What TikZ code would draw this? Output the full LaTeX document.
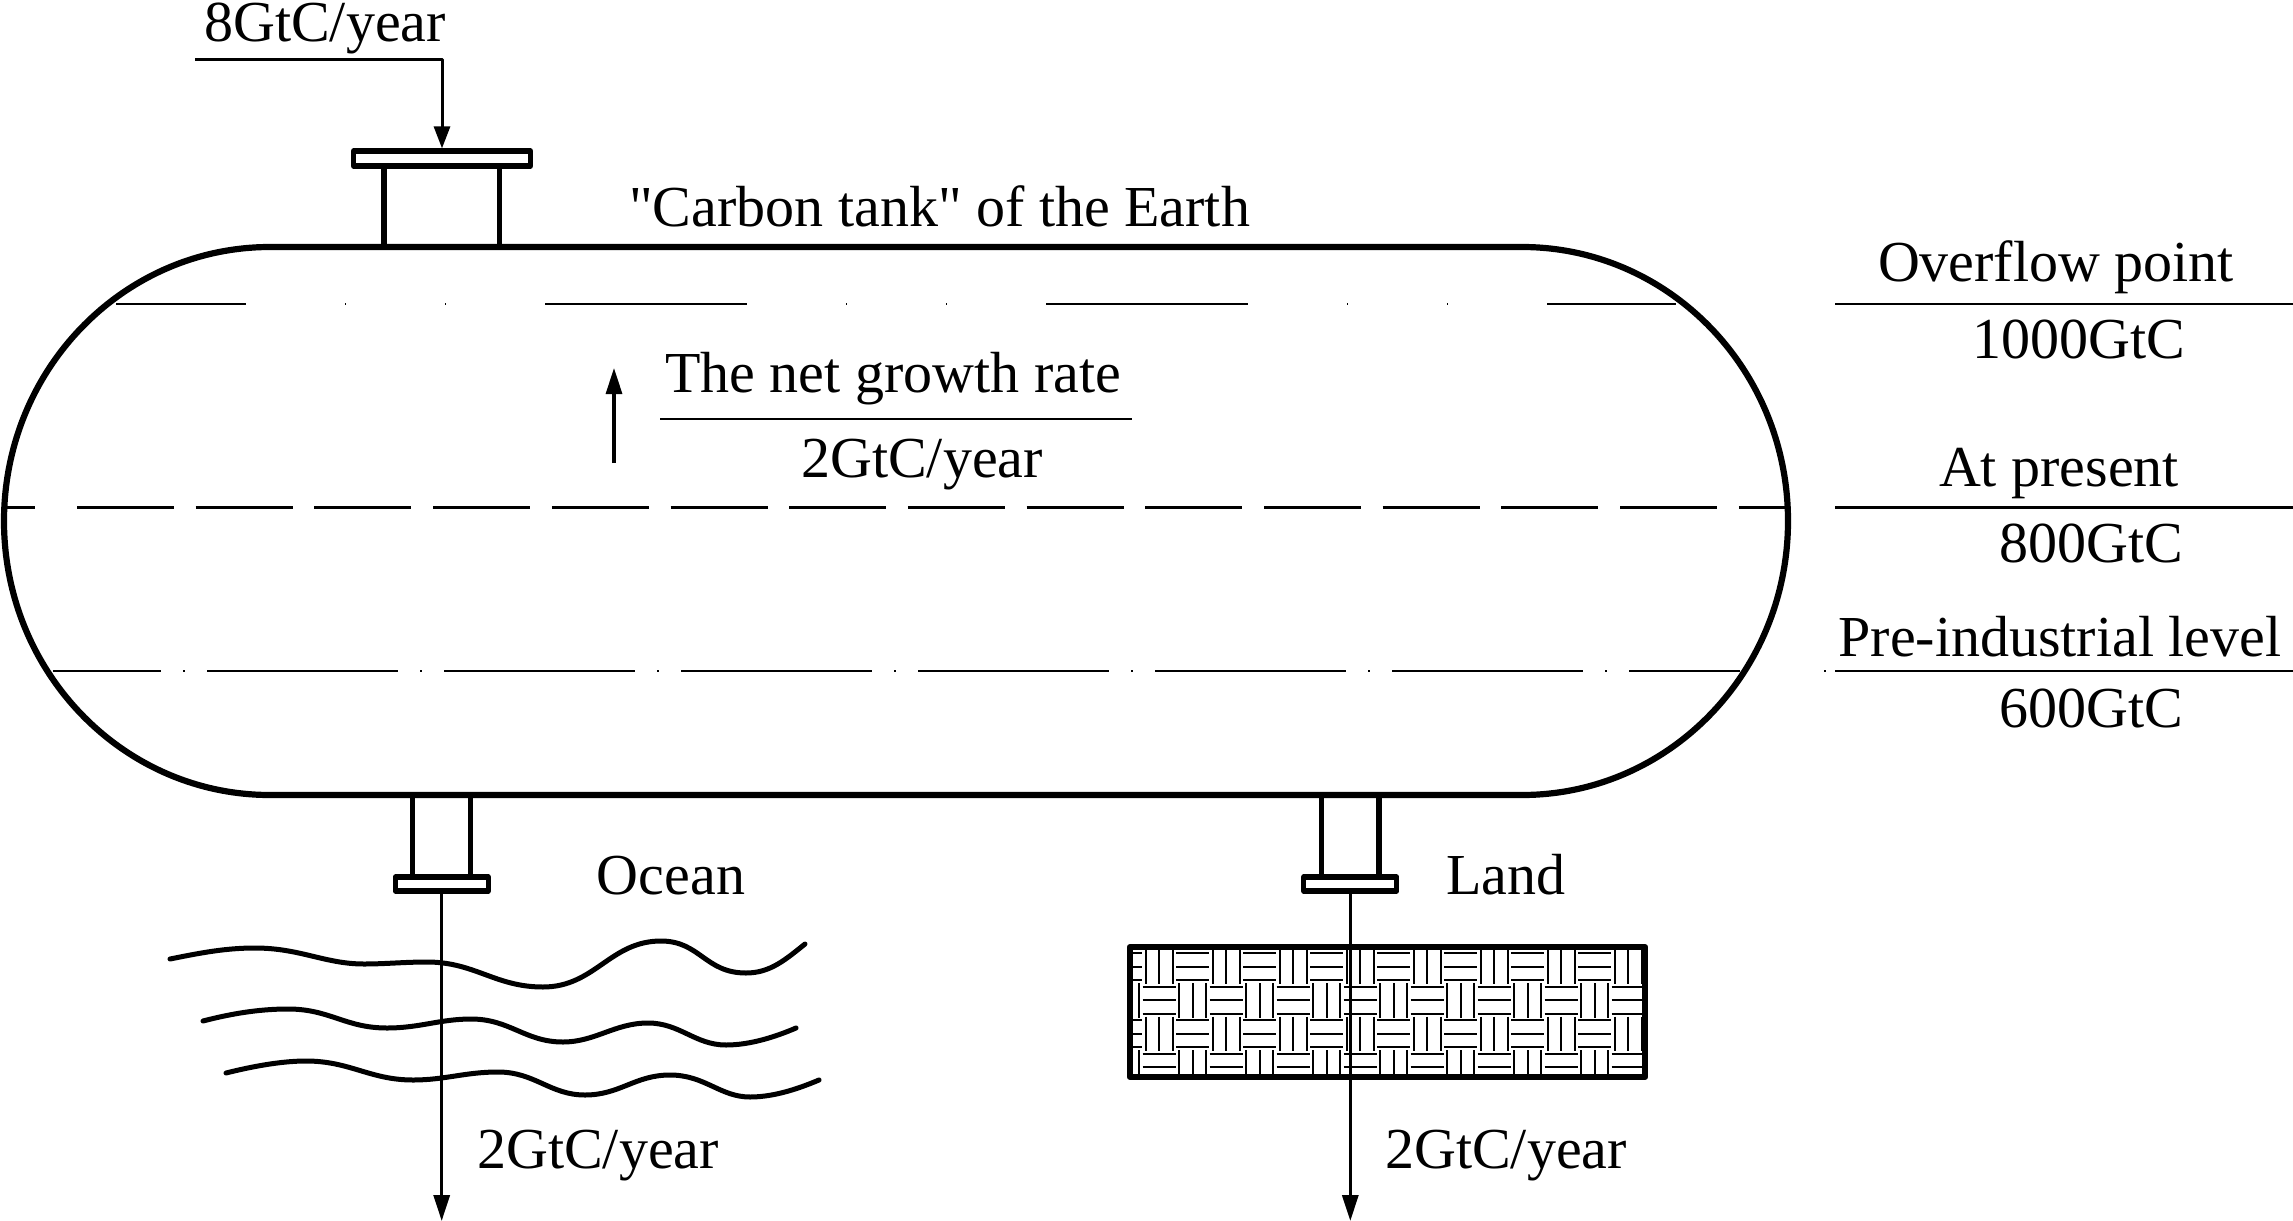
\documentclass[tikz,border=0pt]{standalone}
\usepackage{fontspec}
\setmainfont{Liberation Serif}[Ligatures=TeXOff]
\usetikzlibrary{arrows.meta}
\tikzset{
  lbl/.style={anchor=base,inner sep=0pt,font=\fontsize{29}{30}\selectfont},
  tankline/.style={line width=3.1pt,line join=round},
  neck/.style={line width=2.8pt},
  flange/.style={draw,line width=2.6pt,line join=round,inner sep=0pt,fill=white},
  flow/.style={line width=1.6pt,-{Triangle[length=13pt,width=8pt]}},
  rule/.style={line width=1.3pt},
  wave/.style={line width=2.5pt,line cap=round},
  hatchline/.style={line width=1pt},
  overflowdash/.style={line width=1.2pt,dash pattern=on 101pt off 49.5pt on .5pt off 49.5pt on .5pt off 49.5pt,dash phase=36pt},
  presentdash/.style={line width=1.2pt,dash pattern=on 48.5pt off 10.85pt},
  preinddash/.style={line width=1.2pt,dash pattern=on 95.5pt off 11pt on 1pt off 11pt,dash phase=41.5pt},
}
\begin{document}
\begin{tikzpicture}[x=0.5pt,y=-0.5pt]
\useasboundingbox (0,0) rectangle (2293,1221);

% level lines inside tank
\draw[overflowdash] (116,304) -- (1676,304);
\draw[line width=1.2pt] (4,507.5) -- (34.5,507.5);
\draw[presentdash] (77,507.5) -- (1790,507.5);
\draw[preinddash] (53,671) -- (1740,671);
\draw[line width=1.2pt] (1824,671) -- (1826,671);

% tank
\draw[tankline] (270,247) -- (1522,247)
  arc[start angle=90,end angle=-90,x radius=133pt,y radius=137pt]
  -- (270,795)
  arc[start angle=270,end angle=90,x radius=133pt,y radius=137pt] -- cycle;

% top nozzle
\draw[neck] (384,166) -- (384,247);
\draw[neck] (499.5,166) -- (499.5,247);
\node[flange,minimum width=88.5pt,minimum height=7.5pt] (flangeTop) at (442,158.5) {};
\coordinate (inStart) at (195,59);
\coordinate (inBend) at (442,59);
\draw[line width=1.5pt,line join=round,-{Triangle[length=11pt,width=8pt]}] (inStart) -- (inBend) -- (flangeTop.north);

% ocean nozzle
\draw[neck] (412.5,795) -- (412.5,877);
\draw[neck] (470.5,795) -- (470.5,877);
\node[flange,minimum width=46.5pt,minimum height=7pt] (flangeOcean) at (441.7,884) {};

% land nozzle
\draw[neck] (1321.3,795) -- (1321.3,877);
\draw[neck] (1379,795) -- (1379,877);
\node[flange,minimum width=46.5pt,minimum height=7pt] (flangeLand) at (1350.3,884) {};

% waves
\draw[wave] (170,959) .. controls (200,953) and (225,948) .. (255,948)
  .. controls (300,948) and (325,964) .. (364,964)
  .. controls (385,964) and (405,962) .. (427,962)
  .. controls (475,962) and (495,987) .. (543,987)
  .. controls (595,987) and (610,941) .. (661,941)
  .. controls (700,941) and (705,973) .. (746,973)
  .. controls (770,973) and (785,960) .. (805,944);
\draw[wave] (203,1021) .. controls (230,1014) and (258,1009) .. (288,1009)
  .. controls (330,1009) and (345,1028) .. (387,1028)
  .. controls (420,1028) and (440,1019) .. (471,1019)
  .. controls (510,1019) and (525,1042) .. (563,1042)
  .. controls (595,1042) and (615,1023) .. (648,1023)
  .. controls (680,1023) and (695,1045) .. (726,1045)
  .. controls (750,1045) and (775,1037) .. (796,1028);
\draw[wave] (226,1073) .. controls (250,1067) and (280,1061) .. (306,1061)
  .. controls (350,1061) and (370,1080) .. (413,1080)
  .. controls (445,1080) and (465,1072) .. (498,1072)
  .. controls (535,1072) and (550,1095) .. (585,1095)
  .. controls (620,1095) and (635,1075) .. (670,1075)
  .. controls (705,1075) and (720,1097) .. (750,1097)
  .. controls (775,1097) and (800,1088) .. (819,1080);

% land block hatch
\begin{scope}
\clip (1130,947) rectangle (1645,1077);
\foreach \rr in {0,1,2,3}{
  \foreach \cc in {0,...,16}{
    \pgfmathsetmacro{\xa}{1108.8+33.5*\cc}
    \pgfmathsetmacro{\ya}{949.7+33.5*\rr}
    \pgfmathtruncatemacro{\parit}{mod(\rr+\cc,2)}
    \ifnum\parit=1
      \foreach \kk in {0,1,2}{
        \draw[hatchline] ({\xa+3.3+13.45*\kk},\ya) -- ({\xa+3.3+13.45*\kk},{\ya+34.5});
      }
    \else
      \foreach \kk in {0,1,2}{
        \draw[hatchline] ({\xa+0.3},{\ya+3.6+13.45*\kk}) -- ({\xa+33.5},{\ya+3.6+13.45*\kk});
      }
    \fi
  }
}
\end{scope}
\node[draw,line width=3pt,line join=round,inner sep=0pt,minimum width=257.7pt,minimum height=65pt] (landBlock) at (1387.5,1012) {};

% outgoing flows
\coordinate (oceanTip) at (441.7,1221);
\coordinate (landTip) at (1350.3,1221);
\draw[flow] (flangeOcean.south) -- (oceanTip);
\draw[flow] (flangeLand.south) -- (landTip);

% net growth arrow
\coordinate (growthStart) at (614,463);
\coordinate (growthTip) at (614,368);
\draw[flow] (growthStart) -- (growthTip);

% fraction rules
\coordinate (netL) at (660,419); \coordinate (netR) at (1132,419);
\draw[rule] (netL) -- (netR);
\coordinate (ovL) at (1835,304); \coordinate (ovR) at (2293,304);
\draw[rule] (ovL) -- (ovR);
\coordinate (prL) at (1835,507.5); \coordinate (prR) at (2293,507.5);
\draw[rule] (prL) -- (prR);
\coordinate (piL) at (1835,671); \coordinate (piR) at (2293,671);
\draw[rule] (piL) -- (piR);

% labels
\node[lbl] (tInput) at (325,41) {8GtC/year};
\node[lbl] (tTank) at (939.6,226) {"Carbon tank" of the Earth};
\node[lbl] (tOver) at (2056,281.7) {Overflow point};
\node[lbl] (tOverV) at (2078.6,358) {1000GtC};
\node[lbl] (tPres) at (2059,486) {At present};
\node[lbl] (tPresV) at (2091,562.7) {800GtC};
\node[lbl] (tPre) at (2060,656.7) {Pre-industrial level};
\node[lbl] (tPreV) at (2091,727.7) {600GtC};
\node[lbl] (tNet) at (893,392.7) {The net growth rate};
\node[lbl] (tNetV) at (922,477) {2GtC/year};
\node[lbl] (tOcean) at (671,894) {Ocean};
\node[lbl] (tLand) at (1506,894) {Land};
\node[lbl] (tOceanV) at (598,1168) {2GtC/year};
\node[lbl] (tLandV) at (1506,1168) {2GtC/year};
\end{tikzpicture}
\end{document}
